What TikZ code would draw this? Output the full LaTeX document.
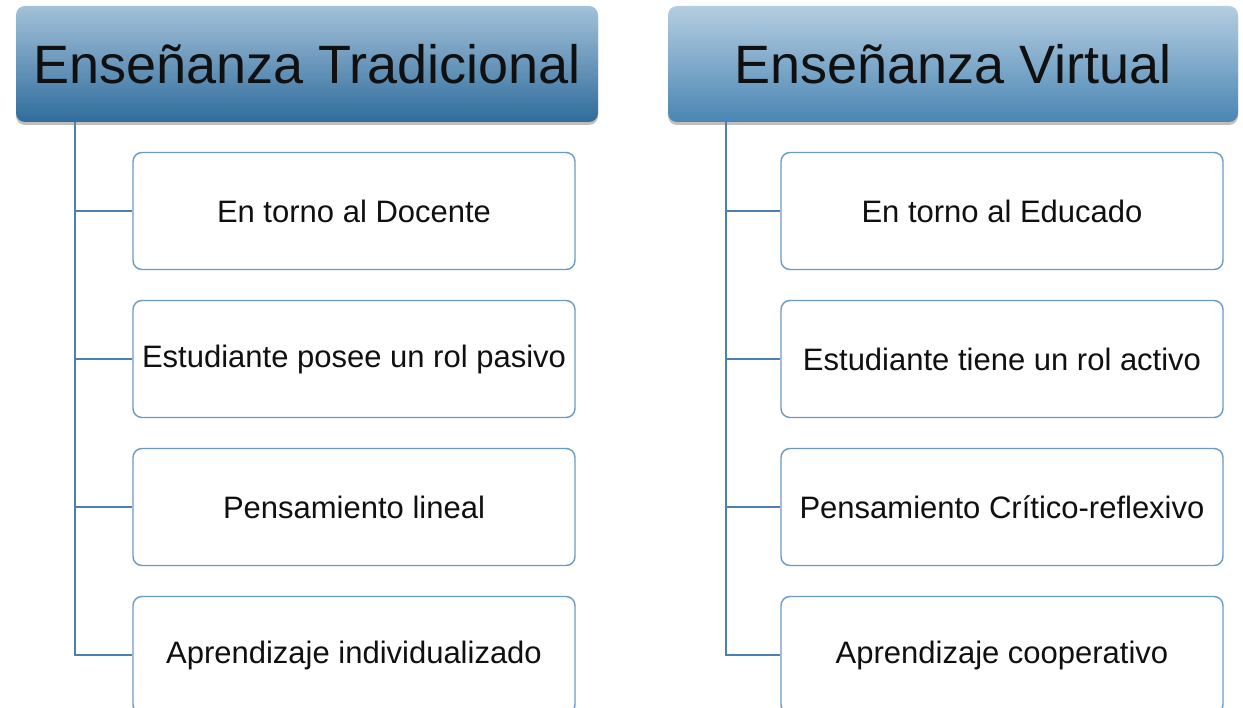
\documentclass[tikz,border=0pt]{standalone}
\usepackage{fontspec}
\setmainfont{Liberation Sans}
\usepackage{tikz}
\usepackage{xcolor}
\usetikzlibrary{positioning}
\usetikzlibrary{shadows}

\definecolor{hdtopL}{HTML}{A3C1D9}
\definecolor{hdbotL}{HTML}{2F6C9C}
\definecolor{hdtopR}{HTML}{B4CEE1}
\definecolor{hdbotR}{HTML}{4A85B3}
\definecolor{itemblue}{HTML}{6A9AC6}
\definecolor{lineblue}{HTML}{4C7FB2}
\definecolor{txtdark}{HTML}{101010}

\tikzset{
  header/.style={
    rounded corners=9pt,
    minimum height=116pt,
    inner sep=0pt,
    text=txtdark,
    font=\fontsize{54}{60}\selectfont,
    drop shadow={shadow xshift=0pt, shadow yshift=-3pt, opacity=.25, fill=black}
  },
  item/.style={
    draw=itemblue, line width=1.4pt,
    rounded corners=9pt,
    fill=white,
    minimum width=442pt, minimum height=117pt,
    inner sep=0pt,
    text=txtdark,
    font=\fontsize{31}{36}\selectfont
  },
  branch/.style={draw=lineblue, line width=1.6pt}
}

\begin{document}
\begin{tikzpicture}[x=1pt, y=-1pt]

\useasboundingbox (0,0) rectangle (1243,708);

% headers
\node (hdL) [header, minimum width=582pt,
  top color=hdtopL, bottom color=hdbotL] at (307,64) {Enseñanza Tradicional};
\node (hdR) [header, minimum width=570pt,
  top color=hdtopR, bottom color=hdbotR] at (953,64) {Enseñanza Virtual};

% left column
\node (bxL1) [item] at (354,211) {En torno al Docente};
\node (bxL2) [item, below=29.6pt of bxL1] {Estudiante posee un rol pasivo};
\node (bxL3) [item, below=29.6pt of bxL2] {Pensamiento lineal};
\node (bxL4) [item, below=29.6pt of bxL3] {Aprendizaje individualizado};

% right column
\node (bxR1) [item] at (1002,211) {En torno al Educado};
\node (bxR2) [item, below=29.6pt of bxR1] {Estudiante tiene un rol activo};
\node (bxR3) [item, below=29.6pt of bxR2] {Pensamiento Crítico-reflexivo};
\node (bxR4) [item, below=29.6pt of bxR3] {Aprendizaje cooperativo};

% connectors
\coordinate (trunkL) at ([xshift=59pt]hdL.south west);
\coordinate (trunkR) at ([xshift=58pt]hdR.south west);

\draw [branch] (trunkL) |- (bxL4.west);
\draw [branch] (trunkR) |- (bxR4.west);
\foreach \i in {1,2,3} {
  \draw [branch] (trunkL |- bxL\i.west) -- (bxL\i.west);
  \draw [branch] (trunkR |- bxR\i.west) -- (bxR\i.west);
}

\end{tikzpicture}
\end{document}
